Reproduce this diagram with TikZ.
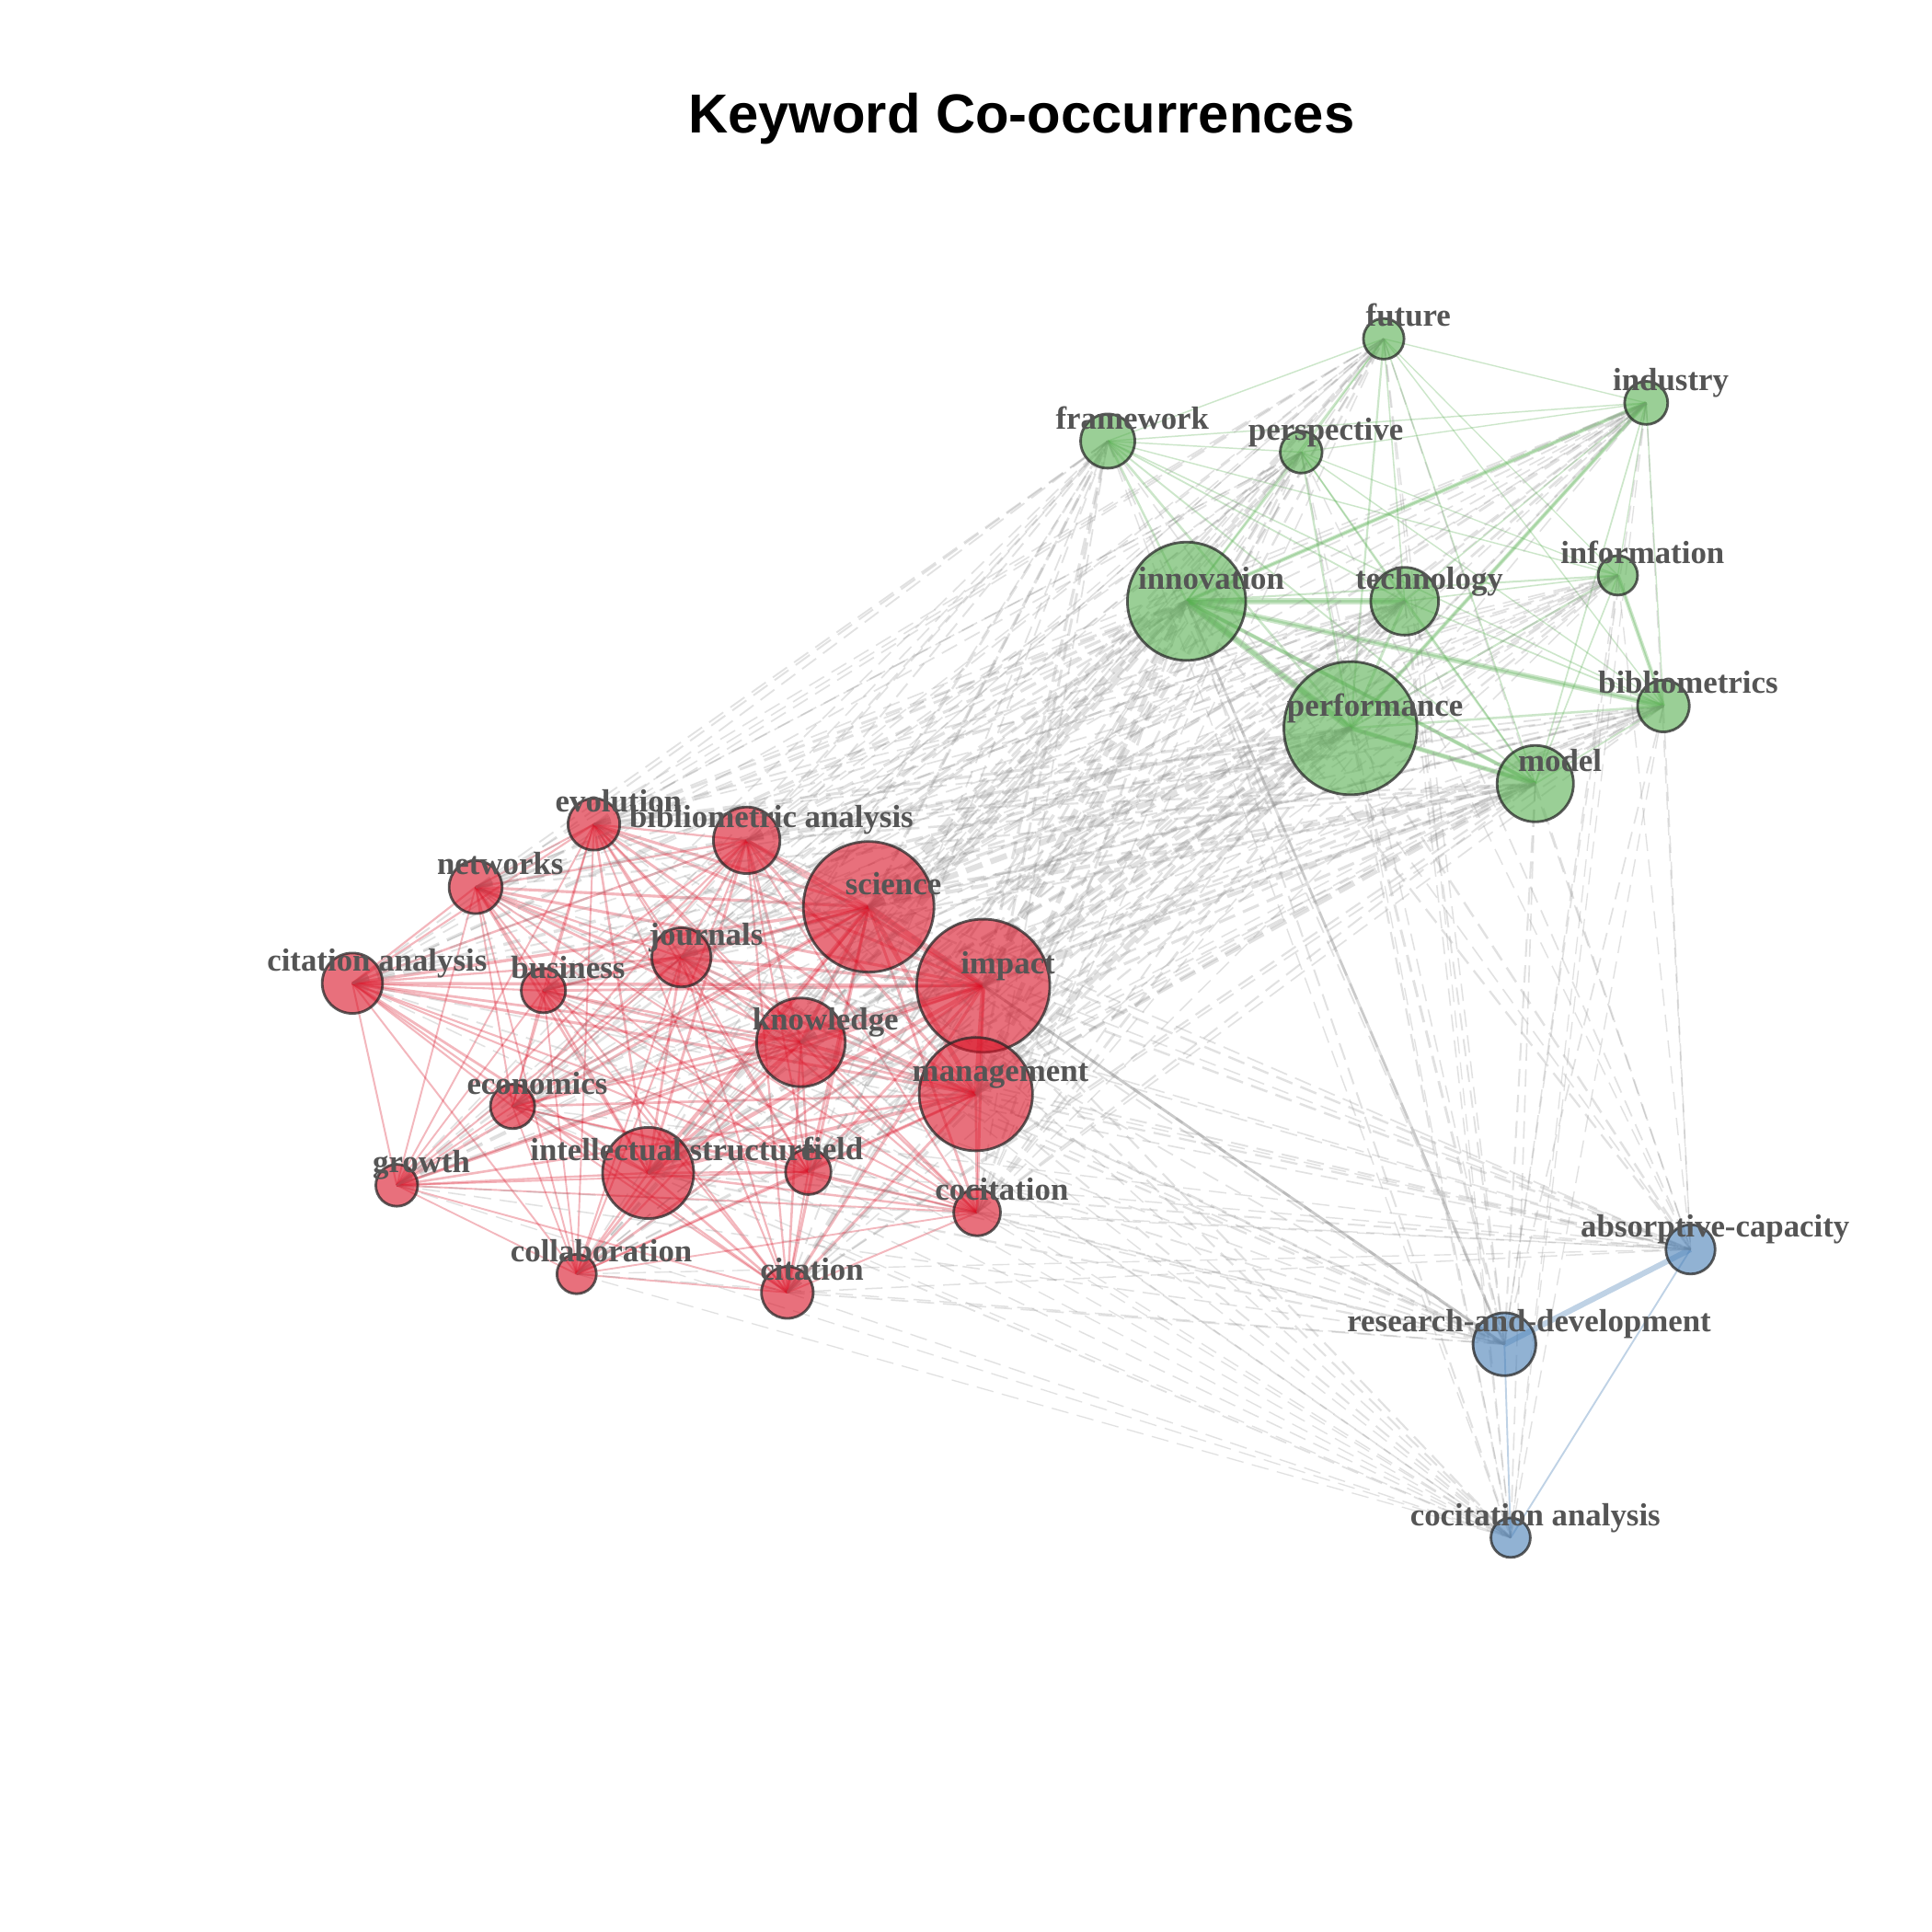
\documentclass[tikz,border=0pt]{standalone}
\usepackage{fontspec}
\setmainfont{Liberation Serif}
\setsansfont{Liberation Sans}
\usepackage{tikz}
\usetikzlibrary{positioning}
\definecolor{kwred}{RGB}{218,17,37}
\definecolor{kwgreen}{RGB}{87,175,80}
\definecolor{kwblue}{RGB}{72,127,183}
\definecolor{kwlink}{RGB}{150,150,150}
\definecolor{kwtext}{RGB}{85,85,85}
\definecolor{kwedge}{RGB}{40,40,40}
\pgfdeclarelayer{bg}
\pgfsetlayers{bg,main}
\tikzset{
  kwnode/.style={circle, inner sep=0pt, draw=kwedge, draw opacity=0.75,
    fill opacity=0.6, line width=0.6pt},
  rednode/.style={kwnode, fill=kwred},
  greennode/.style={kwnode, fill=kwgreen},
  bluenode/.style={kwnode, fill=kwblue},
  kwlabel/.style={text=kwtext, font=\bfseries\fontsize{7.4}{8}\selectfont,
    inner sep=0pt, anchor=base},
  redlink/.style={draw=kwred, draw opacity=0.3},
  greenlink/.style={draw=kwgreen, draw opacity=0.3},
  bluelink/.style={draw=kwblue, draw opacity=0.35},
  crosslink/.style={draw=kwlink, draw opacity=0.28, dash pattern=on 4pt off 2pt},
  solidlink/.style={draw=kwlink, draw opacity=0.3}
}
% name/x/y/radius/label
\def\redlist{evolution/4.82/8.99/0.21/evolution,
  bibanalysis/6.06/8.86/0.27/bibliometric analysis,
  networks/3.86/8.48/0.215/networks,
  citanalysis/2.86/7.70/0.245/citation analysis,
  business/4.41/7.64/0.18/business,
  journals/5.53/7.91/0.24/journals,
  science/7.05/8.32/0.53/science,
  impact/7.98/7.68/0.54/impact,
  knowledge/6.50/7.22/0.36/knowledge,
  management/7.92/6.80/0.46/management,
  economics/4.16/6.70/0.18/economics,
  intstructure/5.26/6.16/0.37/intellectual structure,
  field/6.56/6.17/0.185/field,
  growth/3.22/6.06/0.17/growth,
  cocitation/7.93/5.84/0.19/cocitation,
  collaboration/4.68/5.34/0.16/collaboration,
  citation/6.39/5.19/0.21/citation}
\def\greenlist{future/11.23/12.93/0.165/future,
  industry/13.36/12.41/0.175/industry,
  framework/8.99/12.10/0.22/framework,
  perspective/10.56/12.01/0.17/perspective,
  innovation/9.63/10.80/0.48/innovation,
  technology/11.40/10.80/0.275/technology,
  information/13.13/11.01/0.16/information,
  performance/10.96/9.77/0.54/performance,
  bibliometrics/13.50/9.95/0.21/bibliometrics,
  model/12.46/9.32/0.31/model}
\def\bluelist{absorptive/13.72/5.54/0.20/absorptive-capacity,
  rnd/12.21/4.77/0.255/research-and-development,
  cocitanalysis/12.26/3.20/0.16/cocitation analysis}

\begin{document}
\begin{tikzpicture}
  \useasboundingbox (0,0) rectangle (15.68,15.68);

  % Title
  \node[anchor=base, font=\sffamily\bfseries\fontsize{12.7}{14}\selectfont] (title) at (8.29,14.60) {Keyword Co-occurrences};

  % Keyword nodes
  \foreach \a/\x/\y/\r/\t in \redlist
    \node[rednode, minimum size={2*\r cm}] (\a) at (\x,\y) {};
  \foreach \a/\x/\y/\r/\t in \greenlist
    \node[greennode, minimum size={2*\r cm}] (\a) at (\x,\y) {};
  \foreach \a/\x/\y/\r/\t in \bluelist
    \node[bluenode, minimum size={2*\r cm}] (\a) at (\x,\y) {};

  \begin{pgfonlayer}{bg}
    \fill[white] (0,0) rectangle (15.68,15.68);
    % Links inside the clusters
    \foreach \a/\xa/\ya/\ra/\ta [count=\i] in \redlist {
      \foreach \b/\xb/\yb/\rb/\tb [count=\j] in \redlist {
        \ifnum\j>\i
          \pgfmathsetmacro\w{0.3+3.2*\ra*\rb}
          \draw[redlink, line width=\w pt] (\a.center) -- (\b.center);
        \fi
      }
    }
    \foreach \a/\xa/\ya/\ra/\ta [count=\i] in \greenlist {
      \foreach \b/\xb/\yb/\rb/\tb [count=\j] in \greenlist {
        \ifnum\j>\i
          \pgfmathsetmacro\w{0.2+3*\ra*\rb}
          \draw[greenlink, line width=\w pt] (\a.center) -- (\b.center);
        \fi
      }
    }
    % stronger green links
    \foreach \a/\b/\w in {innovation/technology/1.6, innovation/performance/1.6,
        innovation/bibliometrics/1.3, performance/model/1.1, innovation/industry/0.9,
        performance/industry/0.9, information/bibliometrics/0.9, innovation/model/0.9}
      \draw[greenlink, line width=\w pt] (\a.center) -- (\b.center);
    \draw[bluelink, line width=1.3pt] (rnd.center) -- (absorptive.center);
    \draw[bluelink, line width=0.4pt] (rnd.center) -- (cocitanalysis.center);
    \draw[bluelink, line width=0.4pt] (absorptive.center) -- (cocitanalysis.center);

    % Links between the clusters
    \foreach \a/\xa/\ya/\ra/\ta in \redlist {
      \foreach \b/\xb/\yb/\rb/\tb in \greenlist {
        \pgfmathsetmacro\w{0.2+4*\ra*\rb}
        \draw[crosslink, line width=\w pt] (\a.center) -- (\b.center);
      }
      \foreach \b/\xb/\yb/\rb/\tb in \bluelist {
        \pgfmathsetmacro\w{0.2+3*\ra*\rb}
        \draw[crosslink, line width=\w pt] (\a.center) -- (\b.center);
      }
    }
    \foreach \a/\xa/\ya/\ra/\ta in \greenlist {
      \foreach \b/\xb/\yb/\rb/\tb in \bluelist {
        \pgfmathsetmacro\w{0.2+3*\ra*\rb}
        \draw[crosslink, line width=\w pt] (\a.center) -- (\b.center);
      }
    }
    \draw[solidlink, line width=0.6pt] (innovation.center) -- (rnd.center);
    \draw[solidlink, line width=0.6pt] (impact.center) -- (rnd.center);
  \end{pgfonlayer}

  % Labels
  \foreach \a/\x/\y/\r/\t in \redlist
    \node[kwlabel] (\a-lbl) at ([shift={(0.2,0.1)}]\a.center) {\t};
  \foreach \a/\x/\y/\r/\t in \greenlist
    \node[kwlabel] (\a-lbl) at ([shift={(0.2,0.1)}]\a.center) {\t};
  \foreach \a/\x/\y/\r/\t in \bluelist
    \node[kwlabel] (\a-lbl) at ([shift={(0.2,0.1)}]\a.center) {\t};
\end{tikzpicture}
\end{document}
